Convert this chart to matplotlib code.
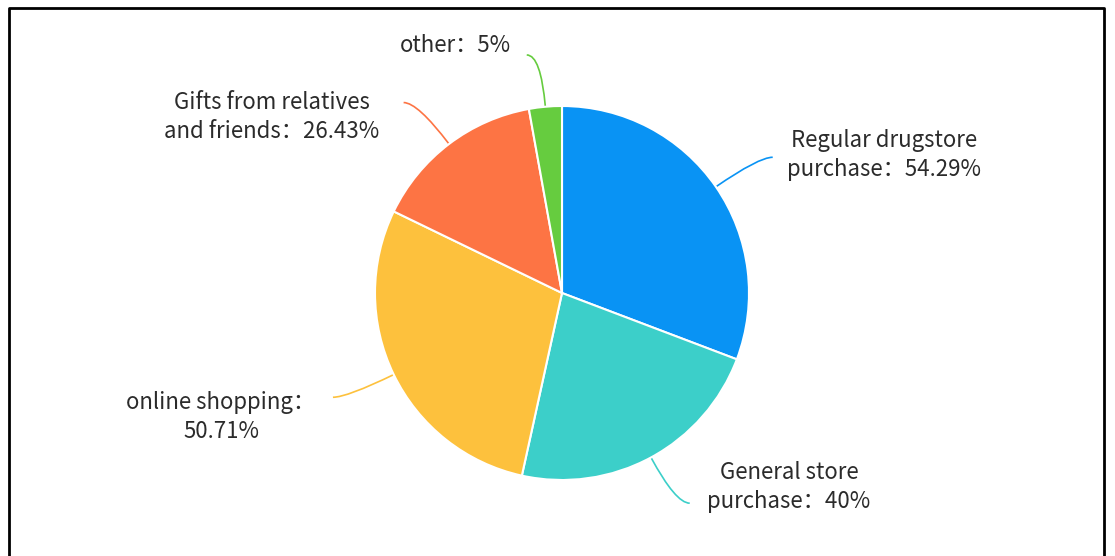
import numpy as np
import matplotlib
matplotlib.use("Agg")
import matplotlib.pyplot as plt
from matplotlib.path import Path
from matplotlib.patches import PathPatch
from matplotlib.lines import Line2D

plt.rcParams['font.family'] = ['Noto Sans CJK SC', 'DejaVu Sans']

# Purchase channels (multiple choice, % of respondents)
categories = ["Regular drugstore\npurchase", "General store\npurchase",
              "online shopping", "Gifts from relatives\nand friends", "other"]
values = [54.29, 40, 50.71, 26.43, 5]
label_texts = ["Regular drugstore\npurchase：54.29%", "General store\npurchase：40%",
               "online shopping：\n50.71%", "Gifts from relatives\nand friends：26.43%",
               "other：5%"]
colors = ["#0993f4", "#3ccfc9", "#fdc13d", "#fd7444", "#66cc3f"]

W, H = 1115, 556
fig = plt.figure(figsize=(W / 100, H / 100), dpi=100)
ax = fig.add_axes([0, 0, 1, 1])

cx, cy, R = 562, H - 293, 187
wedges, _ = ax.pie(values, colors=colors, startangle=90, counterclock=False,
                   radius=R, center=(cx, cy),
                   wedgeprops=dict(edgecolor='white', linewidth=1.5), frame=True)
ax.set_xlim(0, W)
ax.set_ylim(0, H)
ax.set_aspect('equal')
ax.axis('off')

# label anchor (pixel centre of the text block) for each slice
label_pos = [(884, 155), (789, 487), (221, 417), (272, 117), (455, 45)]
for w, col, txt, (tx, ty) in zip(wedges, colors, label_texts, label_pos):
    mid = np.deg2rad((w.theta1 + w.theta2) / 2)
    d = np.array([np.cos(mid), np.sin(mid)])
    p0 = np.array([cx, cy]) + R * d
    p1 = np.array([cx, cy]) + (R + 52) * d
    side = 1 if d[0] >= 0 else -1
    p2 = p1 + np.array([side * 14, 0])
    path = Path([p0, p1, p2], [Path.MOVETO, Path.CURVE3, Path.CURVE3])
    ax.add_patch(PathPatch(path, fill=False, edgecolor=col, linewidth=1.2, zorder=0))
    ax.text(tx, H - ty, txt, ha='center', va='center', multialignment='center',
            fontsize=16, color='#2b2b2b', linespacing=1.35)

# frame around the chart (open at the bottom)
fig.add_artist(Line2D([9 / W, 9 / W, 1104 / W, 1104 / W],
                      [0, 1 - 8 / H, 1 - 8 / H, 0],
                      transform=fig.transFigure, color='black', linewidth=2))

fig.savefig("out.png", dpi=100, facecolor='white')
